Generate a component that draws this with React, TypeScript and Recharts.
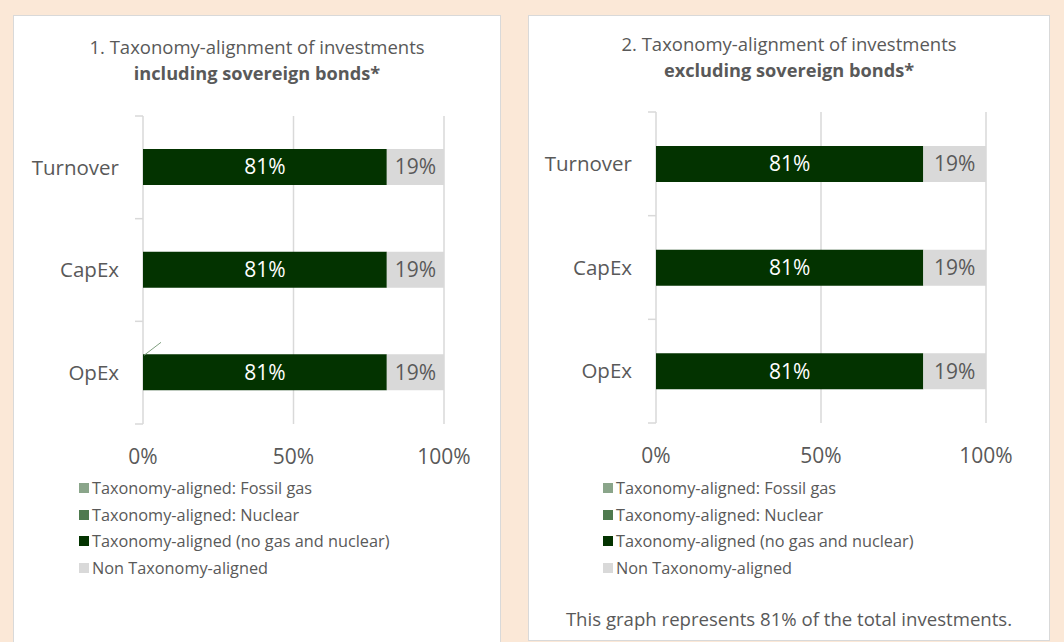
import React from 'react';
import { BarChart, Bar, XAxis, YAxis, CartesianGrid, LabelList, Legend } from 'recharts';

const categories = ['Turnover', 'CapEx', 'OpEx'];
const seriesNames = [
  'Taxonomy-aligned: Fossil gas',
  'Taxonomy-aligned: Nuclear',
  'Taxonomy-aligned (no gas and nuclear)',
  'Non Taxonomy-aligned',
];
const seriesColors = ['#8aa58a', '#4e7a4e', '#033300', '#d9d9d9'];

const gasIncl = [0, 0, 0];
const nuclearIncl = [0, 0, 0];
const alignedIncl = [0.81, 0.81, 0.81];
const nonAlignedIncl = [0.19, 0.19, 0.19];

const gasExcl = [0, 0, 0];
const nuclearExcl = [0, 0, 0];
const alignedExcl = [0.81, 0.81, 0.81];
const nonAlignedExcl = [0.19, 0.19, 0.19];

const xTicks = [0, 0.5, 1];

const title1 = ['1. Taxonomy-alignment of investments', 'including sovereign bonds*'];
const title2 = ['2. Taxonomy-alignment of investments', 'excluding sovereign bonds*'];
const footnote = 'This graph represents 81% of the total investments.';

const FONT = "'Open Sans', sans-serif";
const TEXT = '#595959';
const GRID = '#d9d9d9';
const LABEL_GAP = 24;

const buildData = (gas: number[], nuc: number[], al: number[], non: number[]) =>
  categories.map((c, i) => ({ name: c, gas: gas[i], nuclear: nuc[i], aligned: al[i], non: non[i] }));

const pct = (v: any) => `${Math.round(Number(v) * 100)}%`;

const LegendContent = (props: any) => {
  const payload = [...(props.payload || [])].sort(
    (a: any, b: any) => seriesNames.indexOf(a.value) - seriesNames.indexOf(b.value)
  );
  return (
    <div style={{ fontFamily: FONT, fontSize: 16.3, color: TEXT }}>
      {payload.map((p: any, i: number) => (
        <div key={i} style={{ height: 26.5, display: 'flex', alignItems: 'center', whiteSpace: 'nowrap' }}>
          <span style={{ display: 'inline-block', width: 10, height: 10, background: p.color, marginRight: 3 }} />
          <span>{p.value}</span>
        </div>
      ))}
    </div>
  );
};

const Leader = (props: any) => {
  const { x, y, index } = props;
  if (index !== 2 || x == null || y == null) return null;
  return <line x1={Number(x) + 1} y1={Number(y) + 1} x2={Number(x) + 18} y2={Number(y) - 12} stroke="#7f9f7f" strokeWidth={1} />;
};

const makeCatTick = (band: number, count: number) => (props: any) => {
  const { x, y, payload, index } = props;
  const ax = Number(x) + LABEL_GAP;
  const cy = Number(y);
  return (
    <g>
      <line x1={ax - 8} x2={ax} y1={cy - band / 2} y2={cy - band / 2} stroke={GRID} strokeWidth={1.5} />
      {index === count - 1 ? (
        <line x1={ax - 8} x2={ax} y1={cy + band / 2} y2={cy + band / 2} stroke={GRID} strokeWidth={1.5} />
      ) : null}
      <text x={x} y={cy} dy="0.355em" textAnchor="end" fill={TEXT} fontSize={20.5} fontFamily={FONT}>
        {payload.value}
      </text>
    </g>
  );
};

type PanelProps = {
  data: any[];
  left: number;
  top: number;
  width: number;
  height: number;
  margin: { top: number; right: number; bottom: number; left: number };
  legendLeft: number;
  legendTop: number;
  leader?: boolean;
};

const Chart = ({ data, left, top, width, height, margin, legendLeft, legendTop, leader }: PanelProps) => {
  const plotH = height - margin.top - margin.bottom - 40;
  const band = plotH / data.length;
  const CatTick = makeCatTick(band, data.length);
  return (
    <div style={{ position: 'absolute', left, top, width, height }}>
      <BarChart width={width} height={height} data={data} layout="vertical" margin={margin} barSize={36}>
        <CartesianGrid horizontal={false} vertical stroke={GRID} strokeWidth={1.5} />
        <YAxis
          type="category"
          dataKey="name"
          width={80}
          axisLine={false}
          tickLine={false}
          tickSize={6}
          tickMargin={LABEL_GAP - 6}
          tick={<CatTick />}
        />
        <XAxis
          type="number"
          domain={[0, 1]}
          ticks={xTicks}
          tickFormatter={pct}
          axisLine={false}
          tickLine={false}
          tickSize={6}
          tickMargin={19}
          height={40}
          tick={{ fontSize: 21, fill: TEXT, fontFamily: FONT }}
        />
        <Legend
          layout="vertical"
          align="center"
          verticalAlign="middle"
          content={<LegendContent />}
          wrapperStyle={{ left: legendLeft, top: legendTop, width: 380 }}
        />
        <Bar dataKey="gas" name={seriesNames[0]} stackId="s" fill={seriesColors[0]} isAnimationActive={false} />
        <Bar dataKey="nuclear" name={seriesNames[1]} stackId="s" fill={seriesColors[1]} isAnimationActive={false} />
        <Bar dataKey="aligned" name={seriesNames[2]} stackId="s" fill={seriesColors[2]} isAnimationActive={false}>
          <LabelList dataKey="aligned" position="center" formatter={pct} fill="#ffffff" fontSize={21} fontFamily={FONT} />
          {leader ? <LabelList dataKey="aligned" content={<Leader />} /> : null}
        </Bar>
        <Bar dataKey="non" name={seriesNames[3]} stackId="s" fill={seriesColors[3]} isAnimationActive={false}>
          <LabelList dataKey="non" position="center" formatter={pct} fill={TEXT} fontSize={21} fontFamily={FONT} />
        </Bar>
      </BarChart>
    </div>
  );
};

const Title = ({ lines, left, width, top }: { lines: string[]; left: number; width: number; top: number }) => (
  <div style={{ position: 'absolute', left, width, top, textAlign: 'center', fontFamily: FONT, color: TEXT, fontSize: 18.5, lineHeight: '26px' }}>
    <div>{lines[0]}</div>
    <div style={{ fontWeight: 700, fontSize: 18.2 }}>{lines[1]}</div>
  </div>
);

export default function App() {
  const dataIncl = buildData(gasIncl, nuclearIncl, alignedIncl, nonAlignedIncl);
  const dataExcl = buildData(gasExcl, nuclearExcl, alignedExcl, nonAlignedExcl);
  return (
    <div style={{ position: 'absolute', left: 0, top: 0, width: 1064, height: 642, overflow: 'hidden', background: '#fbe8d7', fontFamily: FONT }}>
      <div style={{ position: 'absolute', left: 13, top: 15, width: 488, height: 640, boxSizing: 'border-box', background: '#fff', border: '1.5px solid #d9d9d9' }} />
      <div style={{ position: 'absolute', left: 528, top: 15, width: 522, height: 626, boxSizing: 'border-box', background: '#fff', border: '1.5px solid #d9d9d9' }} />

      <Title lines={title1} left={13} width={488} top={34} />
      <Title lines={title2} left={528} width={522} top={31} />

      <Chart
        data={dataIncl}
        left={13}
        top={15}
        width={488}
        height={627}
        margin={{ top: 101, right: 57, bottom: 178, left: 50 }}
        legendLeft={66}
        legendTop={460}
        leader
      />
      <Chart
        data={dataExcl}
        left={528}
        top={15}
        width={522}
        height={625}
        margin={{ top: 97, right: 64, bottom: 177, left: 48 }}
        legendLeft={75}
        legendTop={460}
      />

      <div style={{ position: 'absolute', left: 528, width: 522, top: 606, textAlign: 'center', fontFamily: FONT, color: TEXT, fontSize: 18.6, lineHeight: '26px' }}>
        {footnote}
      </div>
    </div>
  );
}
